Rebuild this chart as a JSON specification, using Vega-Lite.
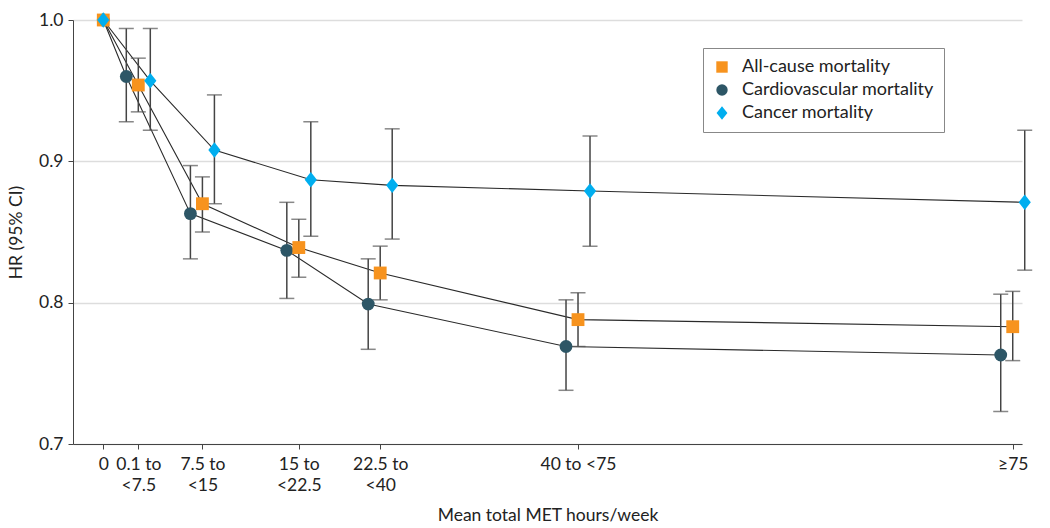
{
  "$schema": "https://vega.github.io/schema/vega-lite/v6.json",
  "description": "HR (95% CI) by mean total MET hours/week for all-cause, cardiovascular and cancer mortality.",
  "width": 949,
  "height": 424,
  "autosize": "none",
  "padding": {"left": 73, "top": 20, "right": 28, "bottom": 84},
  "background": "white",
  "config": {
    "font": "Lato",
    "view": {"stroke": null},
    "axis": {"labelFont": "Lato", "titleFont": "Lato", "labelColor": "#222", "titleColor": "#222", "labelFontSize": 17.5, "titleFontSize": 17.5, "titleFontWeight": "normal", "domainColor": "#444", "tickColor": "#444", "tickSize": 5}
  },
  "data": {
    "values": [
      {"outcome": "Cardiovascular mortality", "met": 0, "hr": 1.0, "lo": null, "hi": null},
      {"outcome": "Cardiovascular mortality", "met": 3.85, "hr": 0.960, "lo": 0.928, "hi": 0.994},
      {"outcome": "Cardiovascular mortality", "met": 10.9, "hr": 0.863, "lo": 0.831, "hi": 0.897},
      {"outcome": "Cardiovascular mortality", "met": 21.5, "hr": 0.837, "lo": 0.803, "hi": 0.871},
      {"outcome": "Cardiovascular mortality", "met": 30.45, "hr": 0.799, "lo": 0.767, "hi": 0.831},
      {"outcome": "Cardiovascular mortality", "met": 52.2, "hr": 0.769, "lo": 0.738, "hi": 0.802},
      {"outcome": "Cardiovascular mortality", "met": 100, "hr": 0.763, "lo": 0.723, "hi": 0.806},
      {"outcome": "All-cause mortality", "met": 0, "hr": 1.0, "lo": null, "hi": null},
      {"outcome": "All-cause mortality", "met": 3.85, "hr": 0.954, "lo": 0.935, "hi": 0.973},
      {"outcome": "All-cause mortality", "met": 10.9, "hr": 0.870, "lo": 0.850, "hi": 0.889},
      {"outcome": "All-cause mortality", "met": 21.5, "hr": 0.839, "lo": 0.818, "hi": 0.859},
      {"outcome": "All-cause mortality", "met": 30.45, "hr": 0.821, "lo": 0.802, "hi": 0.840},
      {"outcome": "All-cause mortality", "met": 52.2, "hr": 0.788, "lo": 0.769, "hi": 0.807},
      {"outcome": "All-cause mortality", "met": 100, "hr": 0.783, "lo": 0.759, "hi": 0.808},
      {"outcome": "Cancer mortality", "met": 0, "hr": 1.0, "lo": null, "hi": null},
      {"outcome": "Cancer mortality", "met": 3.85, "hr": 0.957, "lo": 0.922, "hi": 0.994},
      {"outcome": "Cancer mortality", "met": 10.9, "hr": 0.908, "lo": 0.870, "hi": 0.947},
      {"outcome": "Cancer mortality", "met": 21.5, "hr": 0.887, "lo": 0.847, "hi": 0.928},
      {"outcome": "Cancer mortality", "met": 30.45, "hr": 0.883, "lo": 0.845, "hi": 0.923},
      {"outcome": "Cancer mortality", "met": 52.2, "hr": 0.879, "lo": 0.840, "hi": 0.918},
      {"outcome": "Cancer mortality", "met": 100, "hr": 0.871, "lo": 0.823, "hi": 0.922}
    ]
  },
  "params": [
    {"name": "dodgeExpr", "value": 12}
  ],
  "encoding": {
    "x": {
      "field": "met",
      "type": "quantitative",
      "title": "Mean total MET hours/week",
      "scale": {"domain": [-3.33, 101.02], "nice": false, "zero": false},
      "axis": {
        "values": [0, 3.85, 10.9, 21.5, 30.45, 52.2, 100],
        "grid": false,
        "labelPadding": 6,
        "labelLineHeight": 21,
        "titlePadding": 13,
        "labelExpr": "datum.value == 0 ? '0' : datum.value < 5 ? ['0.1 to', '<7.5'] : datum.value < 15 ? ['7.5 to', '<15'] : datum.value < 25 ? ['15 to', '<22.5'] : datum.value < 40 ? ['22.5 to', '<40'] : datum.value < 60 ? '40 to <75' : '≥75'"
      }
    },
    "y": {
      "field": "hr",
      "type": "quantitative",
      "title": "HR (95% CI)",
      "scale": {"domain": [0.7, 1.0], "nice": false, "zero": false},
      "axis": {"values": [0.7, 0.8, 0.9, 1.0], "format": ".1f", "gridColor": "#dddddd", "gridWidth": 1.5, "labelPadding": 5, "titlePadding": 13}
    }
  },
  "layer": [
    {
      "mark": {"type": "line", "color": "#2a2a2a", "strokeWidth": 1.1, "xOffset": {"expr": "datum.met == 0 ? 0 : datum.outcome == 'Cardiovascular mortality' ? -dodgeExpr : datum.outcome == 'Cancer mortality' ? dodgeExpr : 0"}},
      "encoding": {"detail": {"field": "outcome", "type": "nominal"}}
    },
    {
      "transform": [{"filter": "datum.lo != null"}],
      "mark": {"type": "rule", "color": "#444444", "strokeWidth": 1.5, "xOffset": {"expr": "datum.outcome == 'Cardiovascular mortality' ? -dodgeExpr : datum.outcome == 'Cancer mortality' ? dodgeExpr : 0"}},
      "encoding": {"y": {"field": "lo", "type": "quantitative"}, "y2": {"field": "hi"}}
    },
    {
      "transform": [{"filter": "datum.lo != null"}],
      "mark": {"type": "tick", "orient": "horizontal", "color": "#555555", "size": 15, "thickness": 1.5, "xOffset": {"expr": "datum.outcome == 'Cardiovascular mortality' ? -dodgeExpr : datum.outcome == 'Cancer mortality' ? dodgeExpr : 0"}},
      "encoding": {"y": {"field": "lo", "type": "quantitative"}}
    },
    {
      "transform": [{"filter": "datum.hi != null"}],
      "mark": {"type": "tick", "orient": "horizontal", "color": "#555555", "size": 15, "thickness": 1.5, "xOffset": {"expr": "datum.outcome == 'Cardiovascular mortality' ? -dodgeExpr : datum.outcome == 'Cancer mortality' ? dodgeExpr : 0"}},
      "encoding": {"y": {"field": "hi", "type": "quantitative"}}
    },
    {
      "mark": {"type": "point", "filled": true, "opacity": 1, "size": 165, "xOffset": {"expr": "datum.met == 0 ? 0 : datum.outcome == 'Cardiovascular mortality' ? -dodgeExpr : datum.outcome == 'Cancer mortality' ? dodgeExpr : 0"}},
      "encoding": {
        "color": {
          "field": "outcome",
          "type": "nominal",
          "scale": {"domain": ["All-cause mortality", "Cardiovascular mortality", "Cancer mortality"], "range": ["#F7931E", "#2D5666", "#00AEEF"]},
          "legend": {
            "title": null,
            "orient": "none",
            "legendX": 630,
            "legendY": 28,
            "direction": "vertical",
            "strokeColor": "#888888",
            "padding": 10,
            "labelFontSize": 18,
            "labelFont": "Lato",
            "labelColor": "#222",
            "labelLimit": 400,
            "symbolSize": 130,
            "rowPadding": 5,
            "labelOffset": 11
          }
        },
        "shape": {
          "field": "outcome",
          "type": "nominal",
          "scale": {"domain": ["All-cause mortality", "Cardiovascular mortality", "Cancer mortality"], "range": ["square", "circle", "M0,-1.2L0.95,0L0,1.2L-0.95,0Z"]}
        }
      }
    }
  ]
}
